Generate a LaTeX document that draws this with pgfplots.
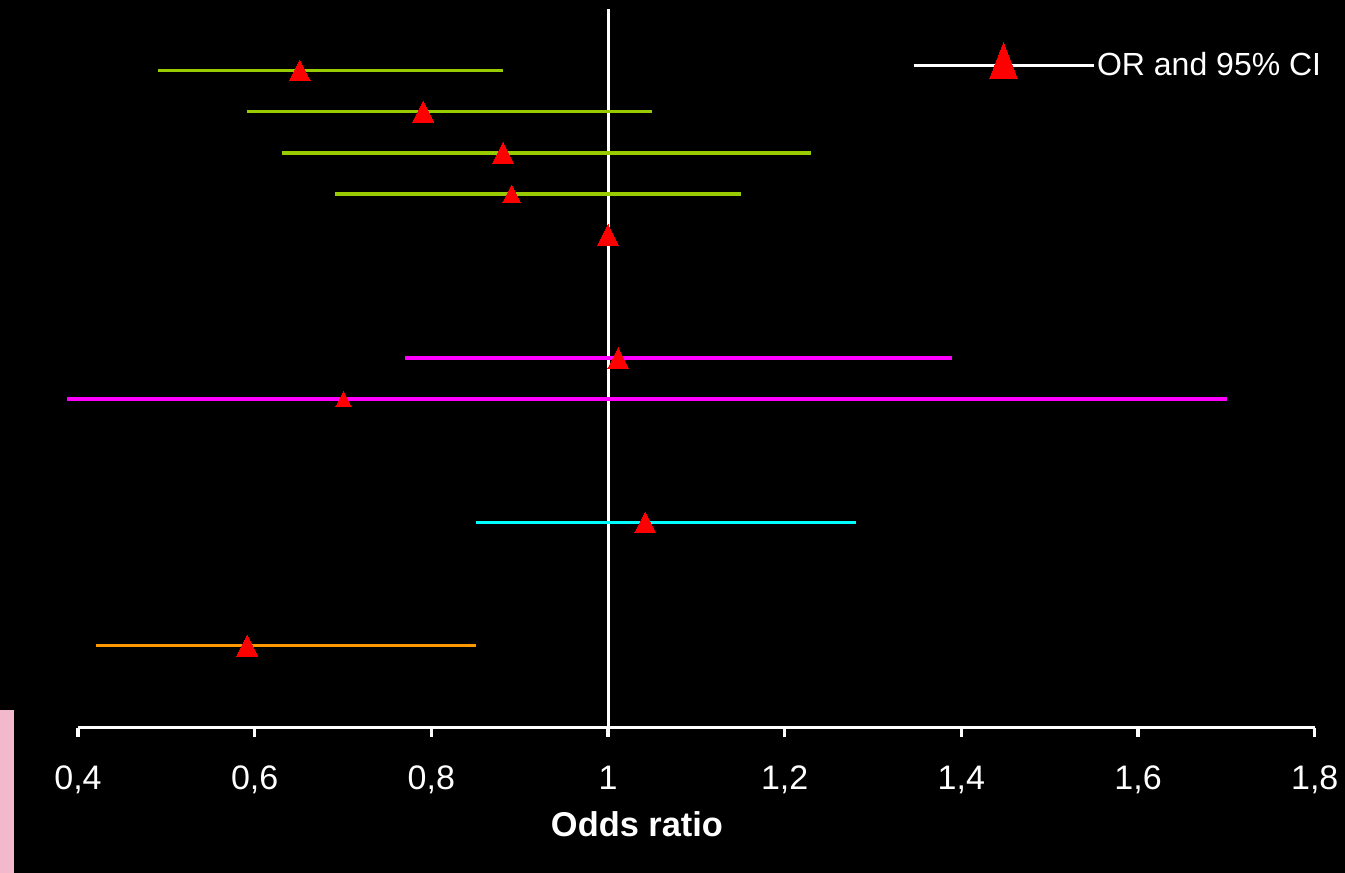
\documentclass[border=0pt]{standalone}
\usepackage{pgfplots}
\pgfplotsset{compat=1.18}
\usepackage{fontspec}
\setmainfont{Liberation Sans}
\definecolor{cgreen}{HTML}{99CC00}
\definecolor{cmag}{HTML}{FF00FF}
\definecolor{ccyan}{HTML}{00FFFF}
\definecolor{corange}{HTML}{FF9900}
\definecolor{cpink}{HTML}{F2B8CC}
\pgfplotsset{cilegend/.style={legend image code/.code={%
  \draw[mark repeat=2, mark phase=2, ##1] plot coordinates {(0pt,0pt) (45pt,0pt) (90pt,0pt)};}}}
\begin{document}
\begin{tikzpicture}
\fill[black] (0,0) rectangle (672.5pt,436.5pt);
\fill[cpink] (0,0) rectangle (7pt,81.5pt);
\begin{axis}[
  at={(39pt,72.5pt)}, anchor=south west,
  scale only axis, width=618.5pt, height=359.5pt,
  xmin=0.4, xmax=1.8, ymin=0, ymax=17.5,
  axis x line*=bottom, axis y line=none,
  xtick={0.4,0.6,0.8,1,1.2,1.4,1.6,1.8},
  ytick=\empty,
  tick align=outside, major tick length=4.5pt,
  x axis line style={white, line width=1.6pt},
  xtick style={white, line width=1.6pt},
  xticklabel style={font=\fontsize{17}{19}\selectfont, text=white, yshift=-11pt},
  /pgf/number format/use comma,
  /pgf/number format/assume math mode=true,
  xlabel={Odds ratio},
  xlabel style={font=\bfseries\fontsize{17.2}{19}\selectfont, text=white,
    at={(axis description cs:0.452,0)}, anchor=base, yshift=-54.5pt},
  clip=false,
  legend style={draw=none, fill=black, text=white,
    font=\fontsize{16}{18}\selectfont,
    at={(axis description cs:0.674,0.927)}, anchor=west,
    inner sep=0pt, nodes={inner sep=1pt}},
]
\addlegendimage{cilegend,
  white, line width=1.6pt, mark=triangle*,
  mark options={fill=red, draw=red, line width=0pt, mark size=8pt, yscale=1.5, yshift=-0.5pt}}
\addlegendentry{OR and 95\% CI}

% reference line at OR = 1
\addplot[white, line width=1.5pt, forget plot] coordinates {(1,0) (1,17.5)};

% confidence intervals
\addplot[cgreen, line width=1.8pt, forget plot] coordinates {(0.4905,16) (0.8806,16)};
\addplot[cgreen, line width=1.8pt, forget plot] coordinates {(0.591,15) (1.0496,15)};
\addplot[cgreen, line width=1.8pt, forget plot] coordinates {(0.6305,14) (1.2296,14)};
\addplot[cgreen, line width=1.8pt, forget plot] coordinates {(0.6909,13) (1.1503,13)};
\addplot[cmag, line width=1.9pt, forget plot] coordinates {(0.770,9) (1.389,9)};
\addplot[cmag, line width=1.9pt, forget plot] coordinates {(0.388,8) (1.7003,8)};
\addplot[ccyan, line width=1.8pt, forget plot] coordinates {(0.8504,5) (1.2805,5)};
\addplot[corange, line width=1.8pt, forget plot] coordinates {(0.4204,2) (0.8504,2)};

% odds ratios
\addplot[only marks, mark=triangle*, forget plot,
  mark options={fill=red, draw=red, line width=0pt, mark size=6pt, yscale=1.15, yshift=-1.5pt}]
  coordinates {(0.651,16) (0.7908,15) (0.8813,14) (1.0,12) (1.0115,9) (1.042,5) (0.5916,2)};
\addplot[only marks, mark=triangle*, forget plot,
  mark options={fill=red, draw=red, line width=0pt, mark size=5pt, yscale=1.15, yshift=-1.2pt}]
  coordinates {(0.8908,13)};
\addplot[only marks, mark=triangle*, forget plot,
  mark options={fill=red, draw=red, line width=0pt, mark size=4.5pt, yscale=1.15, yshift=-1.1pt}]
  coordinates {(0.7007,8)};
\end{axis}
\end{tikzpicture}
\end{document}
